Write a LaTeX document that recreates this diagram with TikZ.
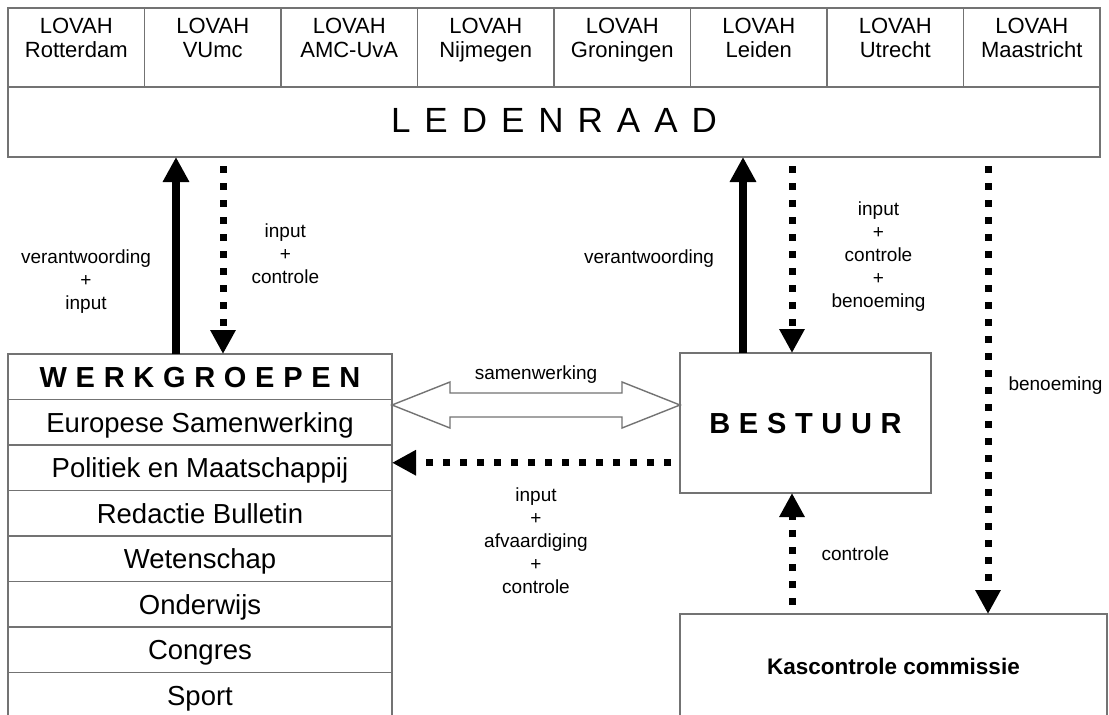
\documentclass[tikz,border=0pt]{standalone}
\usepackage{fontspec}
\setmainfont{Liberation Sans}
\newfontfamily\ruim[LetterSpace=40]{Liberation Sans}
\newfontfamily\breed[LetterSpace=30]{Liberation Sans}
\definecolor{lijngrijs}{gray}{.45}
\usetikzlibrary{arrows.meta,positioning}

\begin{document}
\begin{tikzpicture}[
                x=1pt, y=-1pt,
                node distance=0pt,
                kader/.style={draw=lijngrijs, line width=1.4pt, inner sep=0pt, outer sep=0pt, anchor=north west},
                cel/.style={kader, minimum width=136.5pt, minimum height=79pt},
                rij/.style={kader, anchor=north, minimum width=384pt, minimum height=45.5pt, text height=19.5pt, text depth=0pt, font=\fontsize{27.5}{30}\selectfont},
                lovtekst/.style={align=center, inner sep=0pt, font=\fontsize{22}{24}\selectfont},
                lbl/.style={align=center, inner sep=0pt, font=\fontsize{19}{23}\selectfont},
                vast/.style={-{Triangle[length=25pt, width=25pt]}, line width=8pt},
                stip/.style={-{Triangle[length=24pt, width=24pt]}, line width=7pt, dash pattern=on 7pt off 10pt, dash phase=8pt},
                hol/.style={draw=lijngrijs, line width=1.4pt, line join=miter, fill=white}
            ]
            \path[use as bounding box, fill=white] (0,0) rectangle (1109,715);

            % LOVAH afdelingen + ledenraad
            \foreach \stad [count=\i] in {Rotterdam,VUmc,AMC-UvA,Nijmegen,Groningen,Leiden,Utrecht,Maastricht} {
                \node[cel] (lov\i) at ({8+(\i-1)*136.5},8) {};
                \node[lovtekst] (tlov\i) at ([yshift=7pt]lov\i.center) {LOVAH\\\stad\vphantom{g}};
            }
            \node[kader, minimum width=1092pt, minimum height=70pt, text height=25pt, text depth=5pt,
                  font=\ruim\fontsize{35}{40}\selectfont] (leden) at (8,87) {LEDENRAAD};

            % Werkgroepen
            \node[rij, font=\breed\bfseries\fontsize{29}{32}\selectfont, text height=21pt] (w0) at (200,354) {WERKGROEPEN};
            \foreach \groep [count=\i] in {Europese Samenwerking, Politiek en Maatschappij, Redactie Bulletin,
                                          Wetenschap, Onderwijs, Congres, Sport} {
                \pgfmathtruncatemacro\vorige{\i-1}
                \node[rij, below=of w\vorige] (w\i) {\groep};
            }

            % Bestuur en kascontrole
            \node[kader, minimum width=251pt, minimum height=140pt, text height=21pt, text depth=0pt,
                  font=\breed\bfseries\fontsize{29}{32}\selectfont] (bestuur) at (680,353) {BESTUUR};
            \node[kader, minimum width=427pt, minimum height=104pt, text height=16pt, text depth=0pt,
                  font=\bfseries\fontsize{22.5}{26}\selectfont] (kas) at (680,614) {Kascontrole commissie};

            % kolommen voor de pijlen
            \coordinate (k1) at (176,0);
            \coordinate (k2) at (223,0);
            \coordinate (k3) at (743,0);
            \coordinate (k4) at (792,0);
            \coordinate (k5) at (988,0);

            % Werkgroepen <-> ledenraad
            \draw[vast] (k1 |- w0.north) -- node[lbl, pos=.37, left=21pt] (lVerWg) {verantwoording\\+\\input} (k1 |- leden.south);
            \draw[stip] (k2 |- leden.south) -- node[lbl, pos=.49, right=25pt] (lInWg) {input\\+\\controle} (k2 |- w0.north);

            % Bestuur <-> ledenraad
            \draw[vast] (k3 |- bestuur.north) -- node[lbl, pos=.48, left=25pt] (lVerB) {verantwoording} (k3 |- leden.south);
            \draw[stip] (k4 |- leden.south) -- node[lbl, pos=.51, right=36pt] (lInB) {input\\+\\controle\\+\\benoeming} (k4 |- bestuur.north);
            \draw[stip] (k5 |- leden.south) -- node[lbl, midway, right=17pt] (lBen) {benoeming} (k5 |- kas.north);
            \draw[stip] (k4 |- kas.north) -- node[lbl, midway, right=26pt] (lCon) {controle} (k4 |- bestuur.south);

            % Bestuur -> werkgroepen
            \coordinate (pol) at ([yshift=5pt]w2.east);
            \draw[stip] (pol -| bestuur.west) -- node[lbl, midway, below=21pt] (lAfv) {input\\+\\afvaardiging\\+\\controle} (pol);

            % Samenwerking
            \coordinate (swL) at ([yshift=-5.5pt]w0.south east);
            \coordinate (swR) at (swL -| bestuur.west);
            \draw[hol] (swL) -- ++(58,-23) -- ++(0,11)
                -- node[lbl, midway, above=9pt] (lSam) {samenwerking} ([shift={(-58,-12)}]swR)
                -- ++(0,-11) -- (swR) -- ++(-58,23) -- ++(0,-11)
                -- ([shift={(58,12)}]swL) -- ++(0,11) -- cycle;
        \end{tikzpicture}
\end{document}
